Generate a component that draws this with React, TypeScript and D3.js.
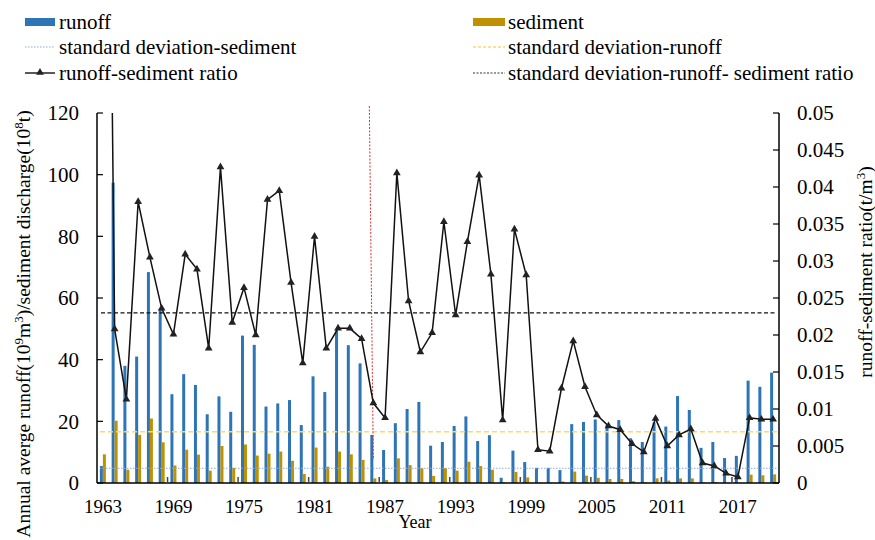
import React from "react";
import * as d3 from "d3";

const years = [
  1963, 1964, 1965, 1966, 1967, 1968, 1969, 1970, 1971, 1972, 1973, 1974, 1975, 1976, 1977, 1978,
  1979, 1980, 1981, 1982, 1983, 1984, 1985, 1986, 1987, 1988, 1989, 1990, 1991, 1992, 1993, 1994,
  1995, 1996, 1997, 1998, 1999, 2000, 2001, 2002, 2003, 2004, 2005, 2006, 2007, 2008, 2009, 2010,
  2011, 2012, 2013, 2014, 2015, 2016, 2017, 2018, 2019, 2020,
];

const runoff = [
  5.5, 97.4, 38.0, 41.0, 68.4, 56.4, 28.8, 35.3, 31.8, 22.3, 28.1, 23.1, 47.8, 44.8, 24.8, 25.8,
  26.9, 18.8, 34.6, 29.5, 49.4, 44.7, 38.8, 15.6, 10.7, 19.4, 24.0, 26.3, 12.1, 13.3, 18.5, 21.6,
  13.6, 15.5, 1.7, 10.5, 6.8, 4.9, 4.9, 4.2, 19.1, 19.8, 20.6, 18.8, 20.4, 14.5, 13.3, 19.6,
  18.3, 28.2, 23.7, 11.4, 13.3, 8.1, 8.8, 33.2, 31.2, 35.8,
];

const sediment = [
  9.3, 20.2, 4.3, 15.6, 20.9, 13.2, 5.7, 10.8, 9.2, 4.0, 12.0, 4.9, 12.5, 8.9, 9.5, 10.2,
  7.2, 2.9, 11.5, 5.3, 10.2, 9.3, 7.5, 1.5, 1.0, 8.0, 5.8, 4.8, 2.3, 4.8, 4.0, 6.9,
  5.5, 4.3, 0.2, 3.6, 1.8, 0.1, 0.1, 0.5, 3.7, 2.4, 1.7, 1.3, 1.3, 0.6, 0.2, 1.5,
  0.8, 1.5, 1.5, 0.1, 0.3, 0.05, 0.05, 2.7, 2.5, 2.8,
];

const ratio = [
  0.17, 0.0208, 0.0113, 0.038, 0.0305, 0.0236, 0.0201, 0.0309, 0.0289, 0.0182, 0.0427, 0.0217, 0.0264, 0.02, 0.0383, 0.0395,
  0.0271, 0.0162, 0.0333, 0.0182, 0.0209, 0.0209, 0.0195, 0.0108, 0.0088, 0.0419, 0.0246, 0.0177, 0.0203, 0.0353, 0.0227, 0.0326,
  0.0416, 0.0282, 0.0085, 0.0343, 0.0281, 0.0045, 0.0043, 0.0128, 0.0192, 0.013, 0.0092, 0.0077, 0.0072, 0.0053, 0.0042, 0.0087,
  0.005, 0.0065, 0.0073, 0.0027, 0.0023, 0.0013, 0.0008, 0.0088, 0.0086, 0.0086,
];

const stdSediment = 4.77;
const stdRunoff = 16.6;
const stdRatio = 0.023;
const changeYear = 1986;

const leftTicks = [0, 20, 40, 60, 80, 100, 120];
const rightTicks = [0, 0.005, 0.01, 0.015, 0.02, 0.025, 0.03, 0.035, 0.04, 0.045, 0.05];
const rightTickLabels = ["0", "0.005", "0.01", "0.015", "0.02", "0.025", "0.03", "0.035", "0.04", "0.045", "0.05"];
const xLabelYears = [1963, 1969, 1975, 1981, 1987, 1993, 1999, 2005, 2011, 2017];

const FONT = '"Liberation Serif", "Times New Roman", Times, serif';
const BLUE = "#2E75B6";
const GOLD = "#BF9000";

export default function App() {
  const left = 97, right = 779, top = 113, bottom = 483;
  const x = d3.scaleBand<number>().domain(years).range([left, right]).padding(0);
  const y = d3.scaleLinear().domain([0, 120]).range([bottom, top]);
  const y2 = d3.scaleLinear().domain([0, 0.05]).range([bottom, top]);
  const bw = x.bandwidth();
  const cx = (yr: number) => (x(yr) as number) + bw / 2;
  const barW = 3;

  const line = d3
    .line<number>()
    .x((_, i) => cx(years[i]))
    .y((d) => y2(d));

  const tri = d3.symbol().type(d3.symbolTriangle).size(26)();

  const lt = { fontSize: 21, fill: "#000" } as const;

  return (
    <svg
      width={875}
      height={540}
      style={{ position: "absolute", left: 0, top: 0, background: "#fff", fontFamily: FONT }}
    >
      <defs>
        <clipPath id="plotClip">
          <rect x={left} y={top} width={right - left} height={bottom - top} />
        </clipPath>
      </defs>
      <rect width={875} height={540} fill="#fff" />

      {/* Legend */}
      <g>
        <rect x={25} y={18} width={30} height={8} fill={BLUE} />
        <text x={59} y={22} dy="0.35em" {...lt}>runoff</text>
        <line x1={25} x2={55} y1={47} y2={47} stroke="#8FAADC" strokeWidth={1} strokeDasharray="1.5,1.5" />
        <text x={59} y={47} dy="0.35em" {...lt}>standard deviation-sediment</text>
        <line x1={25} x2={55} y1={73} y2={73} stroke="#222" strokeWidth={1.5} />
        <path d={tri} transform="translate(40,72.5)" fill="#222" />
        <text x={59} y={73} dy="0.35em" {...lt}>runoff-sediment ratio</text>

        <rect x={473} y={18} width={32} height={8} fill={GOLD} />
        <text x={508} y={22} dy="0.35em" {...lt}>sediment</text>
        <line x1={473} x2={505} y1={47} y2={47} stroke="#FFD966" strokeWidth={1.5} strokeDasharray="3,2" />
        <text x={508} y={47} dy="0.35em" {...lt}>standard deviation-runoff</text>
        <line x1={473} x2={505} y1={73} y2={73} stroke="#333" strokeWidth={1} strokeDasharray="2,1.5" />
        <text x={508} y={73} dy="0.35em" {...lt}>standard deviation-runoff- sediment ratio</text>
      </g>

      {/* Bars */}
      <g>
        {years.map((yr, i) => (
          <rect key={"r" + yr} x={cx(yr) - barW} y={y(runoff[i])} width={barW} height={bottom - y(runoff[i])} fill={BLUE} />
        ))}
        {years.map((yr, i) => (
          <rect key={"s" + yr} x={cx(yr)} y={y(sediment[i])} width={barW} height={bottom - y(sediment[i])} fill={GOLD} />
        ))}
      </g>

      {/* Standard deviation lines */}
      <line x1={left + 3} x2={right - 2} y1={y(stdSediment)} y2={y(stdSediment)} stroke="#8FAADC" strokeWidth={1} strokeDasharray="1.5,1.5" />
      <line x1={left + 3} x2={right - 2} y1={y(stdRunoff)} y2={y(stdRunoff)} stroke="#FFD966" strokeWidth={1.5} strokeDasharray="5,3" />
      <line x1={left + 4} x2={right - 2} y1={y2(stdRatio)} y2={y2(stdRatio)} stroke="#111" strokeWidth={1.2} strokeDasharray="4,2.5" />

      {/* Change point red dashed line */}
      <line
        x1={cx(changeYear) - 4}
        x2={cx(changeYear)}
        y1={top - 7}
        y2={y(7.5)}
        stroke="#E03030"
        strokeWidth={1}
        strokeDasharray="2,1.5"
      />

      {/* Ratio line */}
      <g clipPath="url(#plotClip)">
        <path d={line(ratio) || ""} fill="none" stroke="#111" strokeWidth={1.5} />
        {years.map((yr, i) =>
          ratio[i] <= 0.05 ? (
            <path key={"t" + yr} d={tri} transform={`translate(${cx(yr)},${y2(ratio[i])})`} fill="#222" />
          ) : null
        )}
      </g>

      {/* Axes */}
      <line x1={left} x2={left} y1={top} y2={bottom} stroke="#000" strokeWidth={1.5} />
      <line x1={right} x2={right} y1={top} y2={bottom} stroke="#000" strokeWidth={1.5} />
      <line x1={left} x2={right} y1={bottom} y2={bottom} stroke="#000" strokeWidth={1.5} />
      {leftTicks.map((t) => (
        <g key={"lt" + t}>
          <line x1={left} x2={left + 6} y1={y(t)} y2={y(t)} stroke="#000" strokeWidth={1.2} />
          <text x={79} y={y(t)} dy="0.35em" textAnchor="end" fontSize={21}>{t}</text>
        </g>
      ))}
      {rightTicks.map((t, i) => (
        <g key={"rt" + t}>
          <line x1={right - 6} x2={right} y1={y2(t)} y2={y2(t)} stroke="#000" strokeWidth={1.2} />
          <text x={797} y={y2(t)} dy="0.35em" textAnchor="start" fontSize={21}>{rightTickLabels[i]}</text>
        </g>
      ))}
      {xLabelYears.map((yr) => (
        <g key={"xl" + yr}>
          {yr !== years[0] ? (
            <line x1={x(yr) as number} x2={x(yr) as number} y1={bottom} y2={bottom - 6} stroke="#444" strokeWidth={1.5} />
          ) : null}
          <text x={cx(yr)} y={513} textAnchor="middle" fontSize={19}>{yr}</text>
        </g>
      ))}

      {/* Axis titles */}
      <text x={415} y={528} textAnchor="middle" fontSize={18}>Year</text>
      <text transform="translate(23,324) rotate(-90)" textAnchor="middle" dy="0.35em" fontSize={19.5}>
        Annual averge runoff(10<tspan dy="-7" fontSize={13}>9</tspan>
        <tspan dy="7">m</tspan>
        <tspan dy="-7" fontSize={13}>3</tspan>
        <tspan dy="7">)/sediment discharge(10</tspan>
        <tspan dy="-7" fontSize={13}>8</tspan>
        <tspan dy="7">t)</tspan>
      </text>
      <text transform="translate(865,272) rotate(-90)" textAnchor="middle" dy="0.35em" fontSize={19.5}>
        runoff-sediment ratio(t/m<tspan dy="-7" fontSize={13}>3</tspan>
        <tspan dy="7">)</tspan>
      </text>
    </svg>
  );
}
